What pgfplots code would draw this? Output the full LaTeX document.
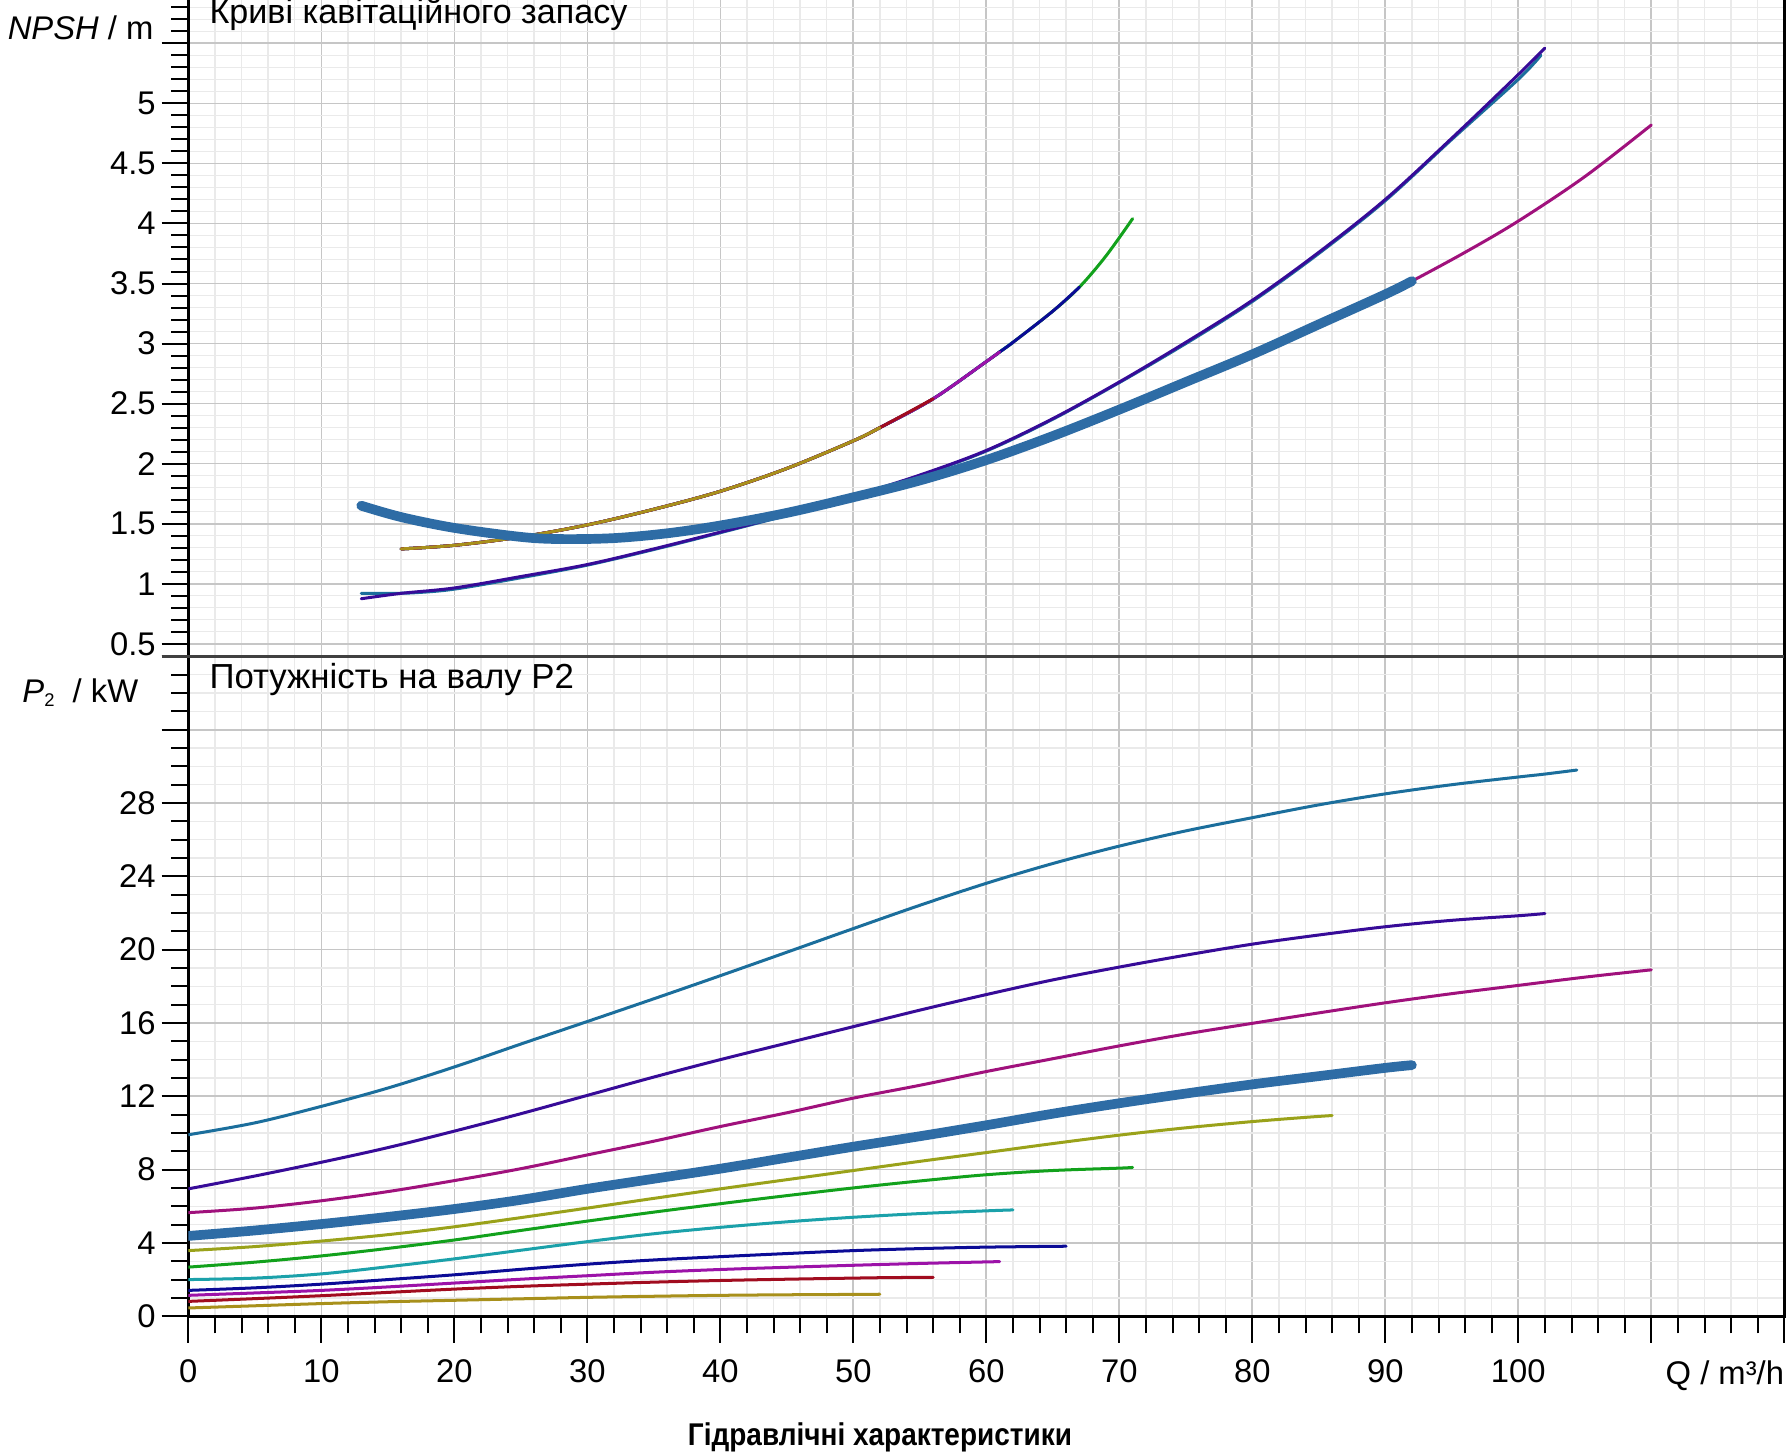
\documentclass[border=0pt]{standalone}
\usepackage{fontspec}
\setmainfont{Liberation Sans}
\setsansfont{Liberation Sans}
\usepackage{pgfplots}
\pgfplotsset{compat=1.18}

\definecolor{cSB}{HTML}{1B6E9C}
\definecolor{cIN}{HTML}{370B98}
\definecolor{cMG}{HTML}{A0117C}
\definecolor{cTB}{HTML}{2E6CA5}
\definecolor{cYG}{HTML}{9AA21A}
\definecolor{cGR}{HTML}{12A11C}
\definecolor{cTE}{HTML}{1BA1AA}
\definecolor{cNV}{HTML}{0B0B96}
\definecolor{cPU}{HTML}{9C12A8}
\definecolor{cDR}{HTML}{A10C1F}
\definecolor{cOL}{HTML}{A8901B}
\definecolor{gridmaj}{HTML}{C6C6C6}
\definecolor{gridmin}{HTML}{EAEAEA}
\definecolor{sepgray}{HTML}{404040}

\pgfplotsset{
  mystyle/.style={
    scale only axis, width=167.76mm, xmin=0, xmax=120,
    tick align=outside, xtick pos=bottom, ytick pos=left,
    major tick length=2.8mm, minor tick length=1.8mm,
    grid=both,
    major grid style={color=gridmaj, line width=0.5pt},
    minor grid style={color=gridmin, line width=0.4pt},
    axis line style={black, line width=0.8pt},
    tick style={black, line width=0.6pt},
    tick label style={font=\fontsize{9.8}{11}\selectfont},
    yticklabel style={xshift=0.6mm},
    xticklabel style={yshift=-0.5mm},
    /pgf/number format/assume math mode=true,
    minor x tick num=4, xtick={0,10,...,120},
    every axis plot/.append style={line cap=round, line join=round, smooth, tension=0.55},
  },
  thin/.style={line width=0.9pt},
  thick/.style={line width=2.9pt},
}

\begin{document}
\begin{tikzpicture}
% ---------------- bottom: P2 ----------------
\begin{axis}[mystyle, at={(0,0)}, anchor=south west, height=69.36mm,
  ymin=0, ymax=36, ytick={0,4,8,12,16,20,24,28,32,36},
  yticklabels={0,4,8,12,16,20,24,28,{},{}}, minor y tick num=3,
  xticklabels={0,10,20,30,40,50,60,70,80,90,100,{},{}}]
\addplot[cSB, thin] coordinates {(0,9.9)(5,10.55)(10,11.45)(15,12.45)(20,13.6)(25,14.85)(30,16.08)(35,17.32)(40,18.58)(45,19.86)(50,21.15)(55,22.42)(60,23.62)(65,24.7)(70,25.65)(75,26.48)(80,27.2)(85,27.9)(90,28.5)(95,29.0)(100,29.42)(102,29.58)(104.4,29.8)};
\addplot[cIN, thin] coordinates {(0,6.95)(5,7.65)(10,8.4)(15,9.2)(20,10.1)(25,11.05)(30,12.05)(35,13.05)(40,14.0)(45,14.9)(50,15.8)(55,16.7)(60,17.55)(65,18.35)(70,19.05)(75,19.7)(80,20.3)(85,20.8)(90,21.25)(95,21.6)(100,21.85)(102,21.97)};
\addplot[cMG, thin] coordinates {(0,5.65)(5,5.9)(10,6.3)(15,6.8)(20,7.4)(25,8.05)(30,8.8)(35,9.55)(40,10.35)(45,11.1)(50,11.9)(55,12.6)(60,13.35)(65,14.05)(70,14.75)(75,15.4)(80,15.98)(85,16.55)(90,17.1)(95,17.6)(100,18.05)(105,18.5)(110,18.9)};
\addplot[cYG, thin] coordinates {(0,3.58)(5,3.8)(10,4.1)(15,4.45)(20,4.88)(25,5.38)(30,5.9)(35,6.43)(40,6.95)(45,7.45)(50,7.95)(55,8.45)(60,8.93)(65,9.42)(70,9.88)(75,10.28)(80,10.62)(84,10.85)(86,10.95)};
\addplot[cGR, thin] coordinates {(0,2.68)(5,2.95)(10,3.29)(15,3.7)(20,4.16)(25,4.68)(30,5.19)(35,5.68)(40,6.14)(45,6.58)(50,7.0)(55,7.38)(60,7.72)(65,7.95)(70,8.08)(71,8.12)};
\addplot[cTE, thin] coordinates {(0,2.0)(5,2.08)(10,2.31)(15,2.7)(20,3.13)(25,3.6)(30,4.07)(35,4.5)(40,4.85)(45,5.15)(50,5.4)(55,5.6)(60,5.75)(62,5.8)};
\addplot[cNV, thin] coordinates {(0,1.41)(5,1.55)(10,1.75)(15,2.0)(20,2.26)(25,2.56)(30,2.84)(35,3.07)(40,3.25)(45,3.42)(50,3.58)(55,3.69)(60,3.77)(66,3.82)};
\addplot[cPU, thin] coordinates {(0,1.14)(5,1.27)(10,1.41)(15,1.6)(20,1.81)(25,2.02)(30,2.21)(35,2.4)(40,2.55)(45,2.67)(50,2.78)(55,2.88)(61,2.98)};
\addplot[cDR, thin] coordinates {(0,0.81)(5,0.96)(10,1.12)(15,1.3)(20,1.48)(25,1.63)(30,1.75)(35,1.86)(40,1.95)(45,2.02)(50,2.08)(53,2.11)(56,2.12)};
\addplot[cOL, thin] coordinates {(0,0.45)(5,0.57)(10,0.69)(15,0.79)(20,0.87)(25,0.95)(30,1.03)(35,1.09)(40,1.14)(45,1.17)(50,1.19)(52,1.2)};
\addplot[cTB, thick] coordinates {(0,4.38)(5,4.68)(10,5.03)(15,5.42)(20,5.85)(25,6.35)(30,6.95)(35,7.5)(40,8.05)(45,8.65)(50,9.25)(55,9.82)(60,10.42)(65,11.05)(70,11.62)(75,12.15)(80,12.65)(85,13.1)(90,13.55)(92,13.7)};
\end{axis}
% ---------------- top: NPSH ----------------
\begin{axis}[mystyle, at={(0,69.36mm)}, anchor=south west, height=73.28mm,
  ymin=0.395, ymax=6.2, ytick={0.5,1,1.5,2,2.5,3,3.5,4,4.5,5,5.5,6},
  yticklabels={0.5,1,1.5,2,2.5,3,3.5,4,4.5,5,{},6}, minor y tick num=4,
  xticklabels={}, xtick style={draw=none}]
% group 1
\addplot[cGR, thin] coordinates {(16,1.29)(20,1.32)(25,1.39)(30,1.49)(35,1.62)(40,1.77)(45,1.96)(50,2.19)(52,2.30)(56,2.54)(60,2.85)(61,2.93)(62,3.01)(65,3.27)(67,3.47)(69,3.73)(71,4.04)};
\addplot[cTE, thin] coordinates {(16,1.29)(20,1.32)(25,1.39)(30,1.49)(35,1.62)(40,1.77)(45,1.96)(50,2.19)(52,2.30)(56,2.54)(60,2.85)(61,2.93)(62,3.01)};
\addplot[cNV, thin] coordinates {(16,1.29)(20,1.32)(25,1.39)(30,1.49)(35,1.62)(40,1.77)(45,1.96)(50,2.19)(52,2.30)(56,2.54)(60,2.85)(61,2.93)(62,3.01)(65,3.27)(67,3.47)};
\addplot[cPU, thin] coordinates {(16,1.29)(20,1.32)(25,1.39)(30,1.49)(35,1.62)(40,1.77)(45,1.96)(50,2.19)(52,2.30)(56,2.54)(60,2.85)(61,2.93)};
\addplot[cDR, thin] coordinates {(16,1.29)(20,1.32)(25,1.39)(30,1.49)(35,1.62)(40,1.77)(45,1.96)(50,2.19)(52,2.30)(56,2.54)};
\addplot[cOL, thin] coordinates {(16,1.29)(20,1.32)(25,1.39)(30,1.49)(35,1.62)(40,1.77)(45,1.96)(50,2.19)(52,2.30)};
% group 2
\addplot[cSB, thin] coordinates {(13,0.92)(15,0.92)(17,0.925)(20,0.955)(25,1.05)(30,1.155)(35,1.285)(40,1.425)(45,1.57)(50,1.725)(55,1.9)(60,2.105)(65,2.37)(70,2.675)(75,3.0)(80,3.35)(85,3.75)(90,4.19)(95,4.70)(100,5.20)(101.7,5.40)};
\addplot[cIN, thin] coordinates {(13,0.875)(16,0.92)(20,0.965)(25,1.06)(30,1.16)(35,1.29)(40,1.43)(45,1.575)(50,1.73)(55,1.905)(60,2.11)(65,2.375)(70,2.68)(75,3.01)(80,3.36)(85,3.76)(90,4.20)(95,4.71)(100,5.24)(102,5.46)};
% group 3
\addplot[cMG, thin] coordinates {(13,1.65)(16,1.555)(20,1.465)(25,1.39)(28,1.372)(32,1.38)(36,1.42)(40,1.485)(45,1.59)(50,1.72)(55,1.86)(60,2.03)(65,2.23)(70,2.45)(75,2.68)(80,2.91)(85,3.16)(90,3.41)(92,3.52)(96,3.76)(100,4.02)(105,4.39)(110,4.82)};
\addplot[cTB, thick] coordinates {(13,1.65)(16,1.555)(20,1.465)(25,1.39)(28,1.372)(32,1.38)(36,1.42)(40,1.485)(45,1.59)(50,1.72)(55,1.86)(60,2.03)(65,2.23)(70,2.45)(75,2.68)(80,2.91)(85,3.16)(90,3.41)(92,3.52)};
\end{axis}
\draw[sepgray, line width=0.8pt] (-2.8mm,69.36mm) -- (167.76mm,69.36mm);
% texts
\node[anchor=base west, inner sep=0pt, font=\fontsize{10.2}{12}\selectfont] at (2.16mm,135.9mm) {Криві кавітаційного запасу};
\node[anchor=base west, inner sep=0pt, font=\fontsize{10.4}{12}\selectfont] at (2.16mm,66.0mm) {Потужність на валу P2};
\node[anchor=base east, inner sep=0pt, font=\fontsize{9.8}{11}\selectfont] at (-3.6mm,134.2mm) {{\itshape NPSH} / m};
\node[anchor=base east, inner sep=0pt, font=\fontsize{9.8}{11}\selectfont] at (-5.2mm,64.5mm) {{\itshape P}\raisebox{-0.25ex}{\fontsize{5.5}{6}\selectfont 2}\ \ / kW};
\node[anchor=base east, inner sep=0pt, font=\fontsize{9.8}{11}\selectfont] at (167.8mm,-7.2mm) {Q / m³/h};
\node[anchor=base, inner sep=0pt, font=\bfseries\fontsize{9.4}{11}\selectfont] at (72.7mm,-13.56mm) {\scalebox{0.89}[1]{Гідравлічні характеристики}};
\pgfresetboundingbox
\path[use as bounding box] (-19.8mm,-14.64mm) rectangle (168.36mm,138.36mm);
\end{tikzpicture}
\end{document}
